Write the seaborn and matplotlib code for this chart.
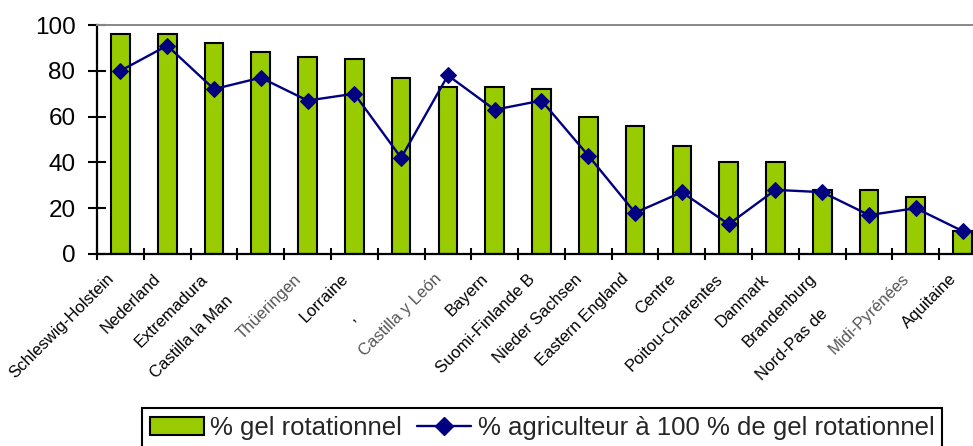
import numpy as np
import matplotlib
matplotlib.use("Agg")
import matplotlib.pyplot as plt
from matplotlib.transforms import ScaledTranslation
from matplotlib.patches import Patch
from matplotlib.lines import Line2D
import seaborn as sns

sns.set_theme(style="white")
plt.rcParams['font.family'] = ['Liberation Sans', 'DejaVu Sans']

# ============================================================
#  DATA
# ============================================================

regions = [
    "Schleswig-Holstein", "Nederland", "Extremadura", "Castilla la Man",
    "Thüeringen", "Lorraine", ",", "Castilla y León", "Bayern",
    "Suomi-Finlande B", "Nieder Sachsen", "Eastern England", "Centre",
    "Poitou-Charentes", "Danmark", "Brandenburg", "Nord-Pas de",
    "Midi-Pyrénées", "Aquitaine",
]
gel_rotationnel = [96, 96, 92, 88, 86, 85, 77, 73, 73, 72, 60, 56, 47, 40, 40, 28, 28, 25, 10]
agriculteur_100 = [80, 91, 72, 77, 67, 70, 42, 78, 63, 67, 43, 18, 27, 13, 28, 27, 17, 20, 10]
y_ticks = [0, 20, 40, 60, 80, 100]

gray_labels = ["Thüeringen", "Castilla y León", "Midi-Pyrénées"]
# labels drawn lower-left of their tick in the original (inches, along the diagonal)
label_shift = {"Castilla la Man": 0.31, ",": 0.55, "Nord-Pas de": 0.49}

GREEN = "#99CC00"
NAVY = "#000080"

# ============================================================
#  PLOT
# ============================================================

fig = plt.figure(figsize=(9.73, 4.46), dpi=100)
ax = fig.add_axes([97 / 973, 192 / 446, 1 - 97 / 973, (254 - 25) / 446])

sns.barplot(x=regions, y=gel_rotationnel, order=regions, color=GREEN,
            saturation=1, width=0.4, edgecolor="black", linewidth=1.5, ax=ax, zorder=2)
sns.lineplot(x=np.arange(len(regions)), y=agriculteur_100, color=NAVY, linewidth=1.7,
             marker="D", markersize=8, markeredgecolor=NAVY, ax=ax, zorder=3)

ax.set_yticks(y_ticks)
ax.set_xticks(np.arange(len(regions)))
ax.set_xticks(np.arange(-0.5, len(regions) + 0.5, 1), minor=True)
# limits after the ticks (set_xticks widens the view)
ax.set_xlim(-0.5, len(regions) - 0.5 - 13 / 46.8)
ax.set_ylim(0, 100)
ax.set_xlabel("")
ax.set_ylabel("")

# spines
for s in ["left", "bottom"]:
    ax.spines[s].set_color("black")
    ax.spines[s].set_linewidth(1.6)
ax.spines["top"].set_color("#888888")
ax.spines["top"].set_linewidth(1.4)
ax.spines["right"].set_visible(False)

# ticks: y crossing, x crossing ticks at category boundaries
ax.tick_params(axis="y", direction="inout", length=13, width=1.5, labelsize=17.5,
               colors="black", pad=9, left=True)
ax.tick_params(axis="x", which="major", length=0, pad=6)
ax.tick_params(axis="x", which="minor", direction="inout", length=8.5, width=1.5,
               color="black", bottom=True)
ax.set_xticklabels(regions, rotation=45, ha="right", rotation_mode="anchor",
                   fontsize=12)

for lbl in ax.get_xticklabels():
    txt = lbl.get_text()
    lbl.set_color("#555555" if txt in gray_labels else "black")
    s = label_shift.get(txt, 0) / np.sqrt(2)
    lbl.set_transform(lbl.get_transform() +
                      ScaledTranslation(-0.14 - s, -0.09 - s, fig.dpi_scale_trans))

# legend
handles = [
    Patch(facecolor=GREEN, edgecolor="black", linewidth=1.5),
    Line2D([], [], color=NAVY, linewidth=1.7, marker="D", markersize=9),
]
leg = fig.legend(handles, ["% gel rotationnel", "% agriculteur à 100 % de gel rotationnel"],
                 loc="center", bbox_to_anchor=(542 / 973, 18 / 446), ncol=2,
                 fontsize=18.5, frameon=True, fancybox=False, framealpha=1,
                 handlelength=2.1, handletextpad=0.25, columnspacing=0.6,
                 borderpad=0.3, borderaxespad=0)
leg.get_frame().set_edgecolor("black")
leg.get_frame().set_linewidth(1.5)

fig.savefig("out.png", dpi=100)
